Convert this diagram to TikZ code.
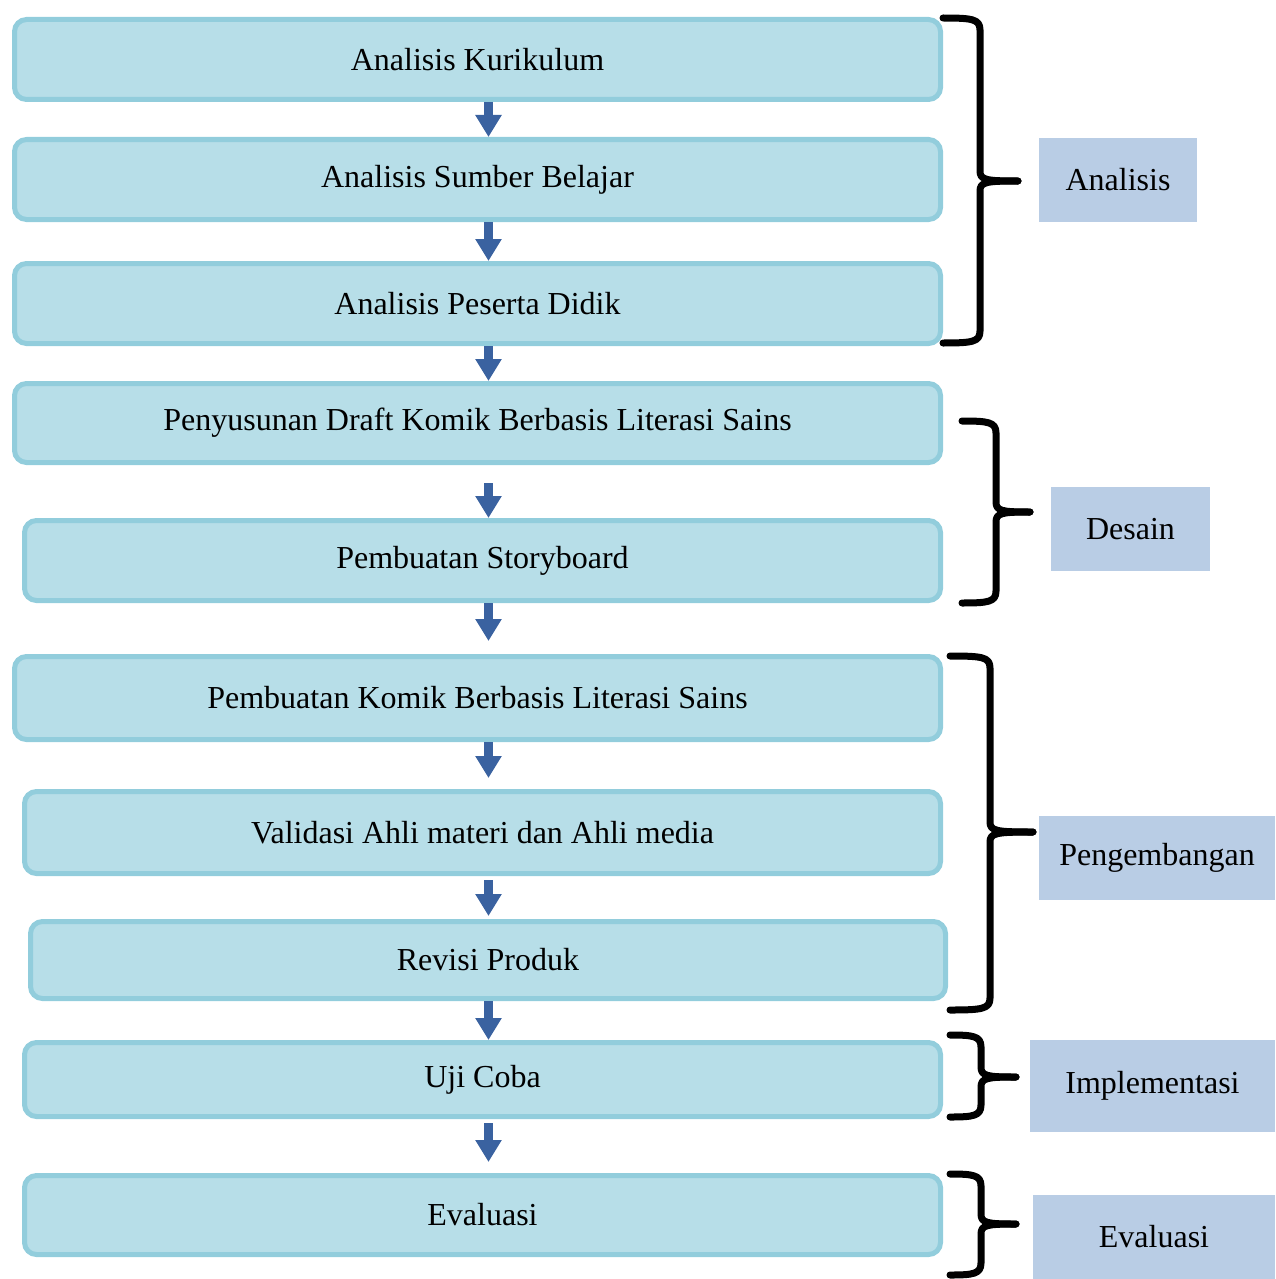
\documentclass[tikz,border=0pt]{standalone}
\usepackage{fontspec}
\setmainfont{Liberation Serif}
\usetikzlibrary{arrows.meta,calc}
\definecolor{boxfill}{HTML}{B7DEE8}
\definecolor{boxline}{HTML}{92CDDC}
\definecolor{arrowblue}{HTML}{3A62A0}
\definecolor{tahapfill}{HTML}{B9CDE5}
\tikzset{
  stepbox/.style={
    draw=boxline,
    fill=boxfill,
    line width=2.5pt,
    rounded corners=6pt,
    minimum width=463pt,
    minimum height=40pt,
    inner sep=0pt
  },
  tahap/.style={
    fill=tahapfill,
    minimum height=42pt,
    inner sep=0pt
  },
  flowarrow/.style={
    draw=arrowblue,
    line width=4.5pt,
    -{Triangle[width=12.5pt,length=11pt]}
  },
  kurung/.style={
    line width=3.5pt,
    line cap=round,
    line join=round
  }
}
\newcommand{\grpbrace}[6]{%
  \draw[kurung] (#1,#4) .. controls (#2-8,#4) and (#2,#4+1) .. (#2,#4+12)
    -- (#2,#5-10) .. controls (#2,#5-1) and (#2+6,#5) .. (#3,#5);
  \draw[kurung] (#1,#6) .. controls (#2-8,#6) and (#2,#6-1) .. (#2,#6-12)
    -- (#2,#5+10) .. controls (#2,#5+1) and (#2+6,#5) .. (#3,#5);
}

\begin{document}
\begin{tikzpicture}[x=0.5pt,y=-0.5pt,font=\fontsize{16}{19}\selectfont]
    \useasboundingbox (0,0) rectangle (1275,1279);

    % langkah
    \node[stepbox] (kur) at (477.5,59.5) {Analisis Kurikulum};
    \node[stepbox] (sbr) at (477.5,179.5) {Analisis Sumber Belajar};
    \node[stepbox] (pdk) at (477.5,303.5) {Analisis Peserta Didik};
    \node[stepbox,minimum height=39.5pt] (drf) at (477.5,423) {Penyusunan Draft Komik Berbasis Literasi Sains};
    \node[stepbox,minimum width=458pt] (sty) at (482.5,560.5) {Pembuatan Storyboard};
    \node[stepbox,minimum height=41.5pt] (kom) at (477.5,698) {Pembuatan Komik Berbasis Literasi Sains};
    \node[stepbox,minimum width=458pt,minimum height=41pt] (val) at (482.5,832.5) {Validasi Ahli materi dan Ahli media};
    \node[stepbox,minimum width=457.5pt,minimum height=38.5pt] (rev) at (488,960) {Revisi Produk};
    \node[stepbox,minimum width=458pt,minimum height=37pt] (uji) at (482.5,1079.5) {Uji Coba};
    \node[stepbox,minimum width=458pt,minimum height=39.5pt] (eva) at (482.5,1215) {Evaluasi};

    % panah
    \coordinate (ax) at (488.5,0);
    \draw[flowarrow] (kur.south -| ax) -- (sbr.north -| ax);
    \draw[flowarrow] (sbr.south -| ax) -- (pdk.north -| ax);
    \draw[flowarrow] (pdk.south -| ax) -- (drf.north -| ax);
    \draw[flowarrow,shorten <=9pt] (drf.south -| ax) -- (sty.north -| ax);
    \draw[flowarrow,shorten >=6.5pt] (sty.south -| ax) -- (kom.north -| ax);
    \draw[flowarrow,shorten >=5.5pt] (kom.south -| ax) -- (val.north -| ax);
    \draw[flowarrow,shorten <=2pt,shorten >=1.5pt] (val.south -| ax) -- (rev.north -| ax);
    \draw[flowarrow] (rev.south -| ax) -- (uji.north -| ax);
    \draw[flowarrow,shorten <=2pt,shorten >=5.5pt] (uji.south -| ax) -- (eva.north -| ax);

    % kurung
    \grpbrace{943}{980}{1018}{18}{181}{343}
    \grpbrace{962}{996}{1030}{421}{512}{603}
    \grpbrace{950}{990}{1033}{656}{832}{1010}
    \grpbrace{950}{981}{1016}{1035}{1077}{1117}
    \grpbrace{950}{981}{1016}{1174}{1224}{1275}

    % tahap
    \node[tahap,minimum width=79pt] (ana) at (1118,180) {Analisis};
    \node[tahap,minimum width=79.5pt] (des) at (1130.5,529) {Desain};
    \node[tahap,minimum width=118pt] (pen) at (1157,858) {Pengembangan};
    \node[tahap,minimum width=122.5pt,minimum height=46pt] (imp) at (1152.5,1086) {Implementasi};
    \node[tahap,minimum width=121pt] (evl) at (1154,1237) {Evaluasi};
\end{tikzpicture}
\end{document}
